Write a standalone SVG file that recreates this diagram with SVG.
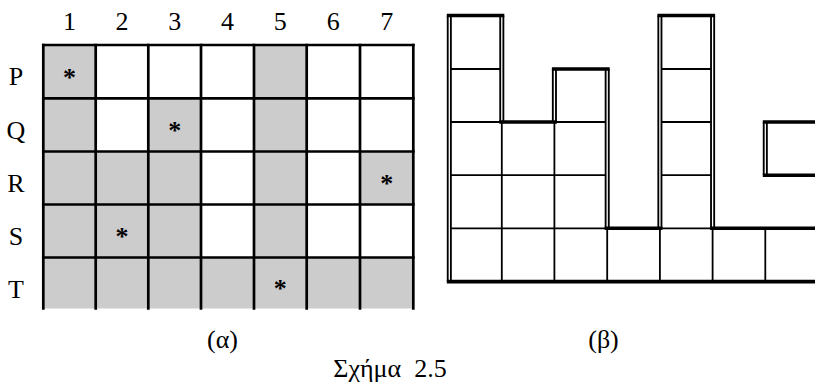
<svg xmlns="http://www.w3.org/2000/svg" width="815" height="392" viewBox="0 0 815 392">
  <style>
    text { font-family: "Liberation Serif", "Times New Roman", serif; font-size: 26px; fill: #000; }
    .mid { text-anchor: middle; }
    .star { font-weight: bold; }
    .shade { fill: #cccccc; }
    .gridA { stroke: #000; stroke-width: 2.7; fill: none; stroke-linecap: square; }
    .thin { stroke: #000; stroke-width: 1.8; fill: none; }
    .dblOuter { stroke: #000; stroke-width: 5; fill: none; }
    .dblInner { stroke: #fff; stroke-width: 1.3; fill: none; }
    .heavy { stroke: #000; stroke-width: 3.6; fill: none; }
  </style>

  <rect width="815" height="392" fill="#fff"/>

  <!-- (α): 5x7 board with shaded cells and starred cells -->
  <g id="board-a">
    <g id="board-a-shading">
      <!-- row P -->
      <rect class="shade" x="43.3" y="45" width="52.4" height="53.3"/>
      <rect class="shade" x="254" y="45" width="52.7" height="53.3"/>
      <!-- row Q -->
      <rect class="shade" x="43.3" y="98.3" width="52.4" height="53.2"/>
      <rect class="shade" x="148.3" y="98.3" width="52.7" height="53.2"/>
      <rect class="shade" x="254" y="98.3" width="52.7" height="53.2"/>
      <!-- row R -->
      <rect class="shade" x="43.3" y="151.5" width="157.7" height="53"/>
      <rect class="shade" x="254" y="151.5" width="52.7" height="53"/>
      <rect class="shade" x="360" y="151.5" width="53.3" height="53"/>
      <!-- row S -->
      <rect class="shade" x="43.3" y="204.5" width="157.7" height="53"/>
      <rect class="shade" x="254" y="204.5" width="52.7" height="53"/>
      <!-- row T -->
      <rect class="shade" x="43.3" y="257.5" width="370" height="51"/>
    </g>
    <g id="board-a-lines">
      <path class="gridA" d="M43.3 45V308.5M95.7 45V308.5M148.3 45V308.5M201 45V308.5M254 45V308.5M306.7 45V308.5M360 45V308.5M413.3 45V308.5"/>
      <path class="gridA" d="M43.3 45H413.3M43.3 98.3H413.3M43.3 151.5H413.3M43.3 204.5H413.3M43.3 257.5H413.3"/>
    </g>
    <g id="board-a-columns">
      <text class="mid" x="69.5" y="30">1</text>
      <text class="mid" x="122" y="30">2</text>
      <text class="mid" x="174.7" y="30">3</text>
      <text class="mid" x="227.5" y="30">4</text>
      <text class="mid" x="280.3" y="30">5</text>
      <text class="mid" x="333.3" y="30">6</text>
      <text class="mid" x="386.7" y="30">7</text>
    </g>
    <g id="board-a-rows">
      <text class="mid" x="16" y="85">P</text>
      <text class="mid" x="16" y="138.5">Q</text>
      <text class="mid" x="16" y="192">R</text>
      <text class="mid" x="16" y="245">S</text>
      <text class="mid" x="16" y="298">T</text>
    </g>
    <g id="board-a-stars">
      <text class="mid star" x="69.5" y="86">*</text>
      <text class="mid star" x="174.7" y="138.5">*</text>
      <text class="mid star" x="386.7" y="192">*</text>
      <text class="mid star" x="122" y="244.5">*</text>
      <text class="mid star" x="280.3" y="296.5">*</text>
    </g>
  </g>

  <!-- (β): column histogram with double-ruled outline -->
  <g id="board-b">
    <g id="board-b-cells">
      <!-- inner horizontal rules -->
      <path class="thin" d="M449.3 69H501.8M659.9 69H712.6"/>
      <path class="thin" d="M449.3 122H501.8M554.4 122H607.2M659.9 122H712.6"/>
      <path class="thin" d="M449.3 175.2H607.2M659.9 175.2H712.6"/>
      <path class="thin" d="M449.3 228.3H607.2M659.9 228.3H712.6"/>
      <!-- inner vertical rules -->
      <path class="thin" d="M501.8 122V281.6M554.4 122V281.6M607.2 228.3V281.6M659.9 228.3V281.6M712.6 228.3V281.6M765.3 228.3V281.6"/>
    </g>
    <g id="board-b-outline">
      <path class="dblOuter" d="M449.3 15.5V281.6M501.8 15.5V122M554.4 69V122M607.2 69V228.3M659.9 15.5V228.3M712.6 15.5V228.3M765.3 122V175.2"/>
      <path class="dblInner" d="M449.3 15.5V281.6M501.8 15.5V122M554.4 69V122M607.2 69V228.3M659.9 15.5V228.3M712.6 15.5V228.3M765.3 122V175.2"/>
      <path class="heavy" d="M446.8 15.5H504.3M657.4 15.5H715.1M499.3 122H556.9M551.9 69H609.7M604.7 228.3H662.4M710.1 228.3H815M762.8 122H815M762.8 175.2H815M446.8 281.6H815"/>
    </g>
  </g>

  <!-- captions -->
  <g id="captions">
    <text class="mid" x="222.5" y="348">(α)</text>
    <text class="mid" x="603.5" y="348">(β)</text>
    <text class="mid" x="390" y="376.5" style="white-space: pre">Σχήμα  2.5</text>
  </g>
</svg>
